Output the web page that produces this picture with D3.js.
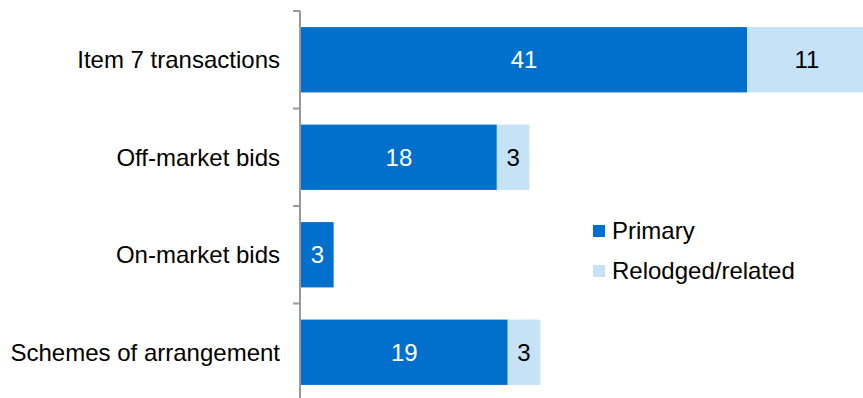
<!DOCTYPE html>
<html>
<head>
<meta charset="utf-8">
<script src="https://cdn.jsdelivr.net/npm/d3@7"></script>
<style>
  html, body { margin: 0; padding: 0; background: #fff; }
  svg { display: block; font-family: "Liberation Sans", Arial, sans-serif; }
</style>
</head>
<body>
<svg id="chart" width="863" height="398"></svg>
<script>
// Takeover transaction counts by type
const categories = ["Item 7 transactions", "Off-market bids", "On-market bids", "Schemes of arrangement"];
const primary = [41, 18, 3, 19];
const relodged = [11, 3, 0, 3];
const seriesNames = ["Primary", "Relodged/related"];
const colors = ["#0070CC", "#C6E2F7"];

const width = 863, height = 398;
const fontSize = 24;
const svg = d3.select("#chart");

const x = d3.scaleLinear().domain([0, 50]).range([301, 845]);
const y = d3.scaleBand().domain(categories).range([11, 401]).paddingInner(0.33).paddingOuter(0.165);

const stacked = categories.map((c, i) => ({
  cat: c,
  segs: [
    { key: 0, x0: 0, x1: primary[i], v: primary[i] },
    { key: 1, x0: primary[i], x1: primary[i] + relodged[i], v: relodged[i] }
  ]
}));

// Bars
const rows = svg.append("g").selectAll("g").data(stacked).join("g");
rows.selectAll("rect")
  .data(d => d.segs.filter(s => s.v > 0).map(s => ({ ...s, cat: d.cat })))
  .join("rect")
  .attr("x", d => x(d.x0))
  .attr("y", d => y(d.cat))
  .attr("width", d => x(d.x1) - x(d.x0))
  .attr("height", y.bandwidth())
  .attr("fill", d => colors[d.key]);

// Value labels
rows.selectAll("text")
  .data(d => d.segs.filter(s => s.v > 0).map(s => ({ ...s, cat: d.cat })))
  .join("text")
  .attr("x", d => (x(d.x0) + x(d.x1)) / 2)
  .attr("y", d => y(d.cat) + y.bandwidth() / 2)
  .attr("dy", "0.35em")
  .attr("text-anchor", "middle")
  .attr("font-size", fontSize)
  .attr("fill", d => d.key === 0 ? "#fff" : "#000")
  .text(d => d.v);

// Category axis with ticks between bands
const axisG = svg.append("g");
axisG.append("line")
  .attr("x1", 300).attr("x2", 300)
  .attr("y1", y.range()[0]).attr("y2", y.range()[1])
  .attr("stroke", "#999").attr("stroke-width", 2);
const step = y.step();
const tickYs = d3.range(categories.length + 1).map(i => y.range()[0] + i * step);
axisG.selectAll("line.tick").data(tickYs).join("line")
  .attr("class", "tick")
  .attr("x1", 293).attr("x2", 300)
  .attr("y1", d => d).attr("y2", d => d)
  .attr("stroke", "#999").attr("stroke-width", 2);

axisG.selectAll("text").data(categories).join("text")
  .attr("x", 280)
  .attr("y", d => y(d) + y.bandwidth() / 2)
  .attr("dy", "0.35em")
  .attr("text-anchor", "end")
  .attr("font-size", fontSize)
  .attr("fill", "#000")
  .text(d => d);

// Legend
const legend = svg.append("g").attr("transform", "translate(593,231)");
const li = legend.selectAll("g").data(seriesNames).join("g")
  .attr("transform", (d, i) => `translate(0,${i * 40})`);
li.append("rect").attr("x", 0).attr("y", -6).attr("width", 12).attr("height", 12)
  .attr("fill", (d, i) => colors[i]);
li.append("text").attr("x", 19).attr("dy", "0.35em")
  .attr("font-size", fontSize).attr("fill", "#000").text(d => d);
</script>
</body>
</html>
